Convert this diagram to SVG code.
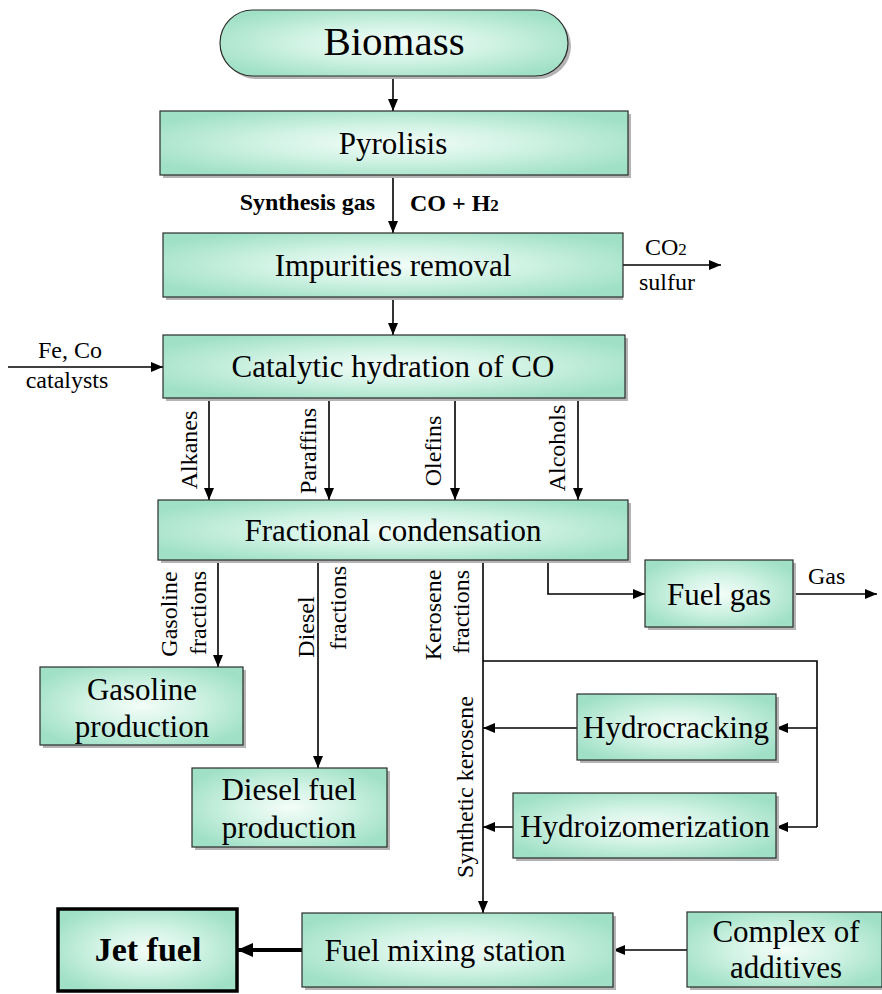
<svg xmlns="http://www.w3.org/2000/svg" width="882" height="994" viewBox="0 0 882 994">
  <style>
    .box { fill: url(#mint); stroke: #2b2b2b; stroke-width: 1.2; }
    .shadow { fill: #b4b4b4; }
    .main { font-family: "Liberation Serif", "Times New Roman", serif; font-size: 31px; fill: #000; text-anchor: middle; }
    .lbl { font-family: "Liberation Serif", "Times New Roman", serif; font-size: 24px; fill: #000; }
    .bold { font-weight: bold; }
    .mid { text-anchor: middle; }
    .sub { font-size: 17px; }
    .wire { fill: none; stroke: #000; stroke-width: 1.6; }
  </style>
  <defs>
    <radialGradient id="mint" cx="50%" cy="50%" r="60%">
      <stop offset="0" stop-color="#f4fdf9"/>
      <stop offset="0.45" stop-color="#d2f3e5"/>
      <stop offset="1" stop-color="#9fe0c6"/>
    </radialGradient>
    <marker id="arr" viewBox="0 0 12 10" refX="12" refY="5" markerWidth="12" markerHeight="10" markerUnits="userSpaceOnUse" orient="auto">
      <path d="M0,0 L12,5 L0,10 Z" fill="#000"/>
    </marker>
    <marker id="arrBig" viewBox="0 0 16 14" refX="16" refY="7" markerWidth="16" markerHeight="14" markerUnits="userSpaceOnUse" orient="auto">
      <path d="M0,0 L16,7 L0,14 Z" fill="#000"/>
    </marker>
  </defs>

  <rect width="882" height="994" fill="#fff"/>

  <!-- connectors -->
  <g id="connectors" class="wire">
    <path d="M393,76 V111" marker-end="url(#arr)"/>
    <path d="M393,175 V233" marker-end="url(#arr)"/>
    <path d="M623,265 H721" marker-end="url(#arr)"/>
    <path d="M393,297 V335" marker-end="url(#arr)"/>
    <path d="M8,367 H163" marker-end="url(#arr)"/>
    <path d="M209,398 V500" marker-end="url(#arr)"/>
    <path d="M329,398 V500" marker-end="url(#arr)"/>
    <path d="M455,398 V500" marker-end="url(#arr)"/>
    <path d="M578,398 V500" marker-end="url(#arr)"/>
    <path d="M218,560 V667" marker-end="url(#arr)"/>
    <path d="M318,560 V768" marker-end="url(#arr)"/>
    <path d="M483,560 V913" marker-end="url(#arr)"/>
    <path d="M548,560 V594 H645" marker-end="url(#arr)"/>
    <path d="M793,594 H877" marker-end="url(#arr)"/>
    <path d="M483,661 H817 V827"/>
    <path d="M817,728 H776" marker-end="url(#arr)"/>
    <path d="M817,827 H776" marker-end="url(#arr)"/>
    <path d="M577,728 H483" marker-end="url(#arr)"/>
    <path d="M513,827 H483" marker-end="url(#arr)"/>
    <path d="M687,950 H613" marker-end="url(#arr)"/>
    <path d="M302,950 H237" stroke-width="4" marker-end="url(#arrBig)"/>
  </g>

  <!-- connector labels -->
  <g id="labels">
    <text class="lbl bold" x="375" y="210" text-anchor="end">Synthesis gas</text>
    <text class="lbl bold" x="410" y="211">CO + H<tspan class="sub">2</tspan></text>
    <text class="lbl" x="645" y="255">CO<tspan class="sub">2</tspan></text>
    <text class="lbl mid" x="667" y="290">sulfur</text>
    <text class="lbl mid" x="70" y="358">Fe, Co</text>
    <text class="lbl mid" x="67" y="388">catalysts</text>
    <text class="lbl mid" transform="translate(197,450) rotate(-90)">Alkanes</text>
    <text class="lbl mid" transform="translate(316,451) rotate(-90)">Paraffins</text>
    <text class="lbl mid" transform="translate(441,451) rotate(-90)">Olefins</text>
    <text class="lbl mid" transform="translate(565,448) rotate(-90)">Alcohols</text>
    <text class="lbl mid" transform="translate(177,614) rotate(-90)">Gasoline</text>
    <text class="lbl mid" transform="translate(206,613) rotate(-90)">fractions</text>
    <text class="lbl mid" transform="translate(314,627) rotate(-90)">Diesel</text>
    <text class="lbl mid" transform="translate(346,608) rotate(-90)">fractions</text>
    <text class="lbl mid" transform="translate(441,615) rotate(-90)">Kerosene</text>
    <text class="lbl mid" transform="translate(469,612) rotate(-90)">fractions</text>
    <text class="lbl mid" transform="translate(473,787) rotate(-90)">Synthetic kerosene</text>
    <text class="lbl" x="808" y="584">Gas</text>
  </g>

  <!-- nodes -->
  <g id="biomass">
    <rect class="shadow" x="223" y="13" width="348" height="66" rx="33"/>
    <rect class="box" x="220" y="10" width="348" height="66" rx="33"/>
    <text class="main" x="394" y="55" style="font-size:41px">Biomass</text>
  </g>
  <g id="pyrolisis">
    <rect class="shadow" x="163" y="114" width="468" height="64"/>
    <rect class="box" x="160" y="111" width="468" height="64"/>
    <text class="main" x="393" y="154">Pyrolisis</text>
  </g>
  <g id="impurities">
    <rect class="shadow" x="166" y="236" width="457" height="64"/>
    <rect class="box" x="163" y="233" width="460" height="64"/>
    <text class="main" x="393" y="276">Impurities removal</text>
  </g>
  <g id="catalytic">
    <rect class="shadow" x="166" y="338" width="462" height="63"/>
    <rect class="box" x="163" y="335" width="462" height="63"/>
    <text class="main" x="393" y="377">Catalytic hydration of CO</text>
  </g>
  <g id="fractional">
    <rect class="shadow" x="161" y="503" width="470" height="60"/>
    <rect class="box" x="158" y="500" width="470" height="60"/>
    <text class="main" x="393" y="541">Fractional condensation</text>
  </g>
  <g id="fuel-gas">
    <rect class="shadow" x="648" y="563" width="148" height="67"/>
    <rect class="box" x="645" y="560" width="148" height="67"/>
    <text class="main" x="719" y="605">Fuel gas</text>
  </g>
  <g id="gasoline">
    <rect class="shadow" x="43" y="670" width="203" height="78"/>
    <rect class="box" x="40" y="667" width="203" height="78"/>
    <text class="main" x="142" y="700">Gasoline</text>
    <text class="main" x="142" y="737">production</text>
  </g>
  <g id="diesel">
    <rect class="shadow" x="195" y="771" width="195" height="79"/>
    <rect class="box" x="192" y="768" width="195" height="79"/>
    <text class="main" x="289" y="800">Diesel fuel</text>
    <text class="main" x="289" y="838">production</text>
  </g>
  <g id="hydrocracking">
    <rect class="shadow" x="580" y="697" width="199" height="66"/>
    <rect class="box" x="577" y="694" width="199" height="66"/>
    <text class="main" x="676" y="738">Hydrocracking</text>
  </g>
  <g id="hydroizomerization">
    <rect class="shadow" x="516" y="796" width="263" height="65"/>
    <rect class="box" x="513" y="793" width="263" height="65"/>
    <text class="main" x="645" y="837">Hydroizomerization</text>
  </g>
  <g id="mixing">
    <rect class="shadow" x="305" y="916" width="311" height="74"/>
    <rect class="box" x="302" y="913" width="311" height="74"/>
    <text class="main" x="445" y="961">Fuel mixing station</text>
  </g>
  <g id="additives">
    <rect class="shadow" x="690" y="915" width="195" height="75"/>
    <rect class="box" x="687" y="912" width="195" height="75"/>
    <text class="main" x="786" y="942">Complex of</text>
    <text class="main" x="786" y="978">additives</text>
  </g>
  <g id="jet-fuel">
    <rect class="box" x="58" y="909" width="179" height="82" style="stroke:#000;stroke-width:3.5"/>
    <text class="main bold" x="148" y="961" style="font-size:34px">Jet fuel</text>
  </g>
</svg>
